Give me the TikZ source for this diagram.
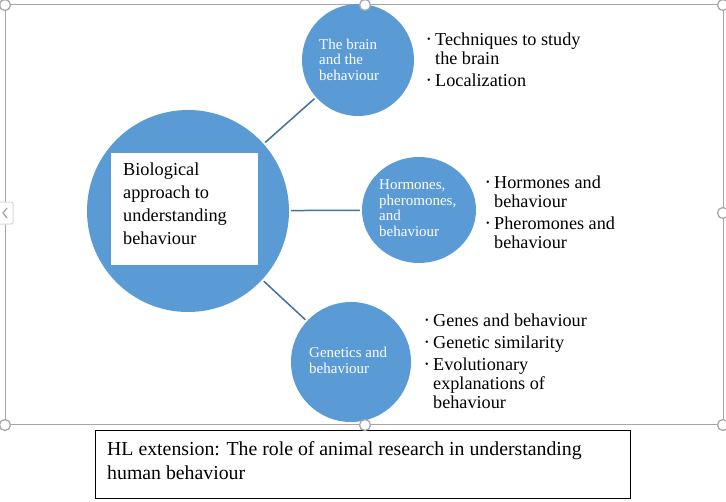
\documentclass[tikz,border=0pt]{standalone}
\usepackage{fontspec}
\setmainfont{Liberation Serif}
\usetikzlibrary{shapes.geometric}
\definecolor{bubble}{HTML}{5B9BD5}
\definecolor{linkc}{HTML}{41719C}
\definecolor{framec}{HTML}{A6A6A6}
\definecolor{tabc}{HTML}{D9D9D9}
\newcommand{\bulmark}{\makebox[8pt][l]{\raisebox{2.5pt}{\fontsize{10}{10}\selectfont •}}}
\tikzset{
  bubblenode/.style={circle, fill=bubble, draw=none, inner sep=0pt},
  bubbletext/.style={text=white, font=\fontsize{15}{15.5}\selectfont, align=left, inner sep=0pt, anchor=base west},
  listtxt/.style={text=black, font=\fontsize{18.2}{19}\selectfont, align=left, inner sep=0pt, anchor=base west},
  linkline/.style={draw=linkc, line width=1.5pt, shorten <=2pt, shorten >=2pt},
  handle/.style={circle, fill=white, draw=framec, line width=1.3pt, minimum size=11pt, inner sep=0pt},
}
\begin{document}
\begin{tikzpicture}[x=1pt, y=-1pt]
\useasboundingbox (0,0) rectangle (726,501);
% selection frame
\draw[framec, line width=1pt] (5,4) rectangle (723,424);
% bubbles
\node[bubblenode, minimum size=202pt] (big) at (188,211) {};
\node[bubblenode, minimum size=112pt] (brain) at (358,60) {};
\node[ellipse, fill=bubble, inner sep=0pt, minimum width=114pt, minimum height=106pt] (horm) at (419,210) {};
\node[bubblenode, minimum size=120pt] (gene) at (351,362) {};
% connectors
\draw[linkline] (big) -- (brain);
\draw[linkline] (big) -- (horm);
\draw[linkline] (big) -- (gene);
% central white box
\node[fill=white, draw=none, minimum width=147pt, minimum height=112pt, inner sep=0pt] (bigbox) at (184.5,209) {};
\node[text=black, font=\fontsize{18.3}{22.7}\selectfont, align=left, inner sep=0pt, anchor=base west] (bigtxt) at (123,244) {Biological\\approach to\\understanding\\behaviour};
% bubble texts
\node[bubbletext] (braintxt) at (319,80) {The brain\\and the\\behaviour};
\node[bubbletext] (horntxt) at (379,236) {Hormones,\\pheromones,\\and\\behaviour};
\node[bubbletext] (genetxt) at (309,373) {Genetics and\\behaviour};
% bullet lists
\node[listtxt] (list1) at (427,86) {\bulmark Techniques to study\\\hspace*{8pt}the brain\\[3pt]\bulmark Localization};
\node[listtxt] (list2) at (486,248) {\bulmark Hormones and\\\hspace*{8pt}behaviour\\[3pt]\bulmark Pheromones and\\\hspace*{8pt}behaviour};
\node[listtxt] (list3) at (425,408) {\bulmark Genes and behaviour\\[3pt]\bulmark Genetic similarity\\[3pt]\bulmark Evolutionary\\\hspace*{8pt}explanations of\\\hspace*{8pt}behaviour};
% HL box
\node[draw=black, line width=1pt, minimum width=535pt, minimum height=68pt, inner sep=0pt] (hlbox) at (362.5,464) {};
\node[text=black, font=\fontsize{19.8}{24}\selectfont, align=left, inner sep=0pt, anchor=base west] (hltxt) at (107,479) {HL extension: The role of animal research in understanding\\human behaviour};
% left tab
\draw[tabc, fill=white, rounded corners=2pt, line width=1pt] (-3,202) rectangle (13,224);
\draw[framec, line width=1.3pt] (7,208) -- (3,213) -- (7,218);
% handles
\node[handle] (h1) at (5,5) {};
\node[handle] (h2) at (365,5) {};
\node[handle] (h3) at (723,5) {};
\node[handle] (h4) at (723,213) {};
\node[handle] (h5) at (5,425) {};
\node[handle] (h6) at (365,425) {};
\node[handle] (h7) at (723,425) {};
\end{tikzpicture}
\end{document}
